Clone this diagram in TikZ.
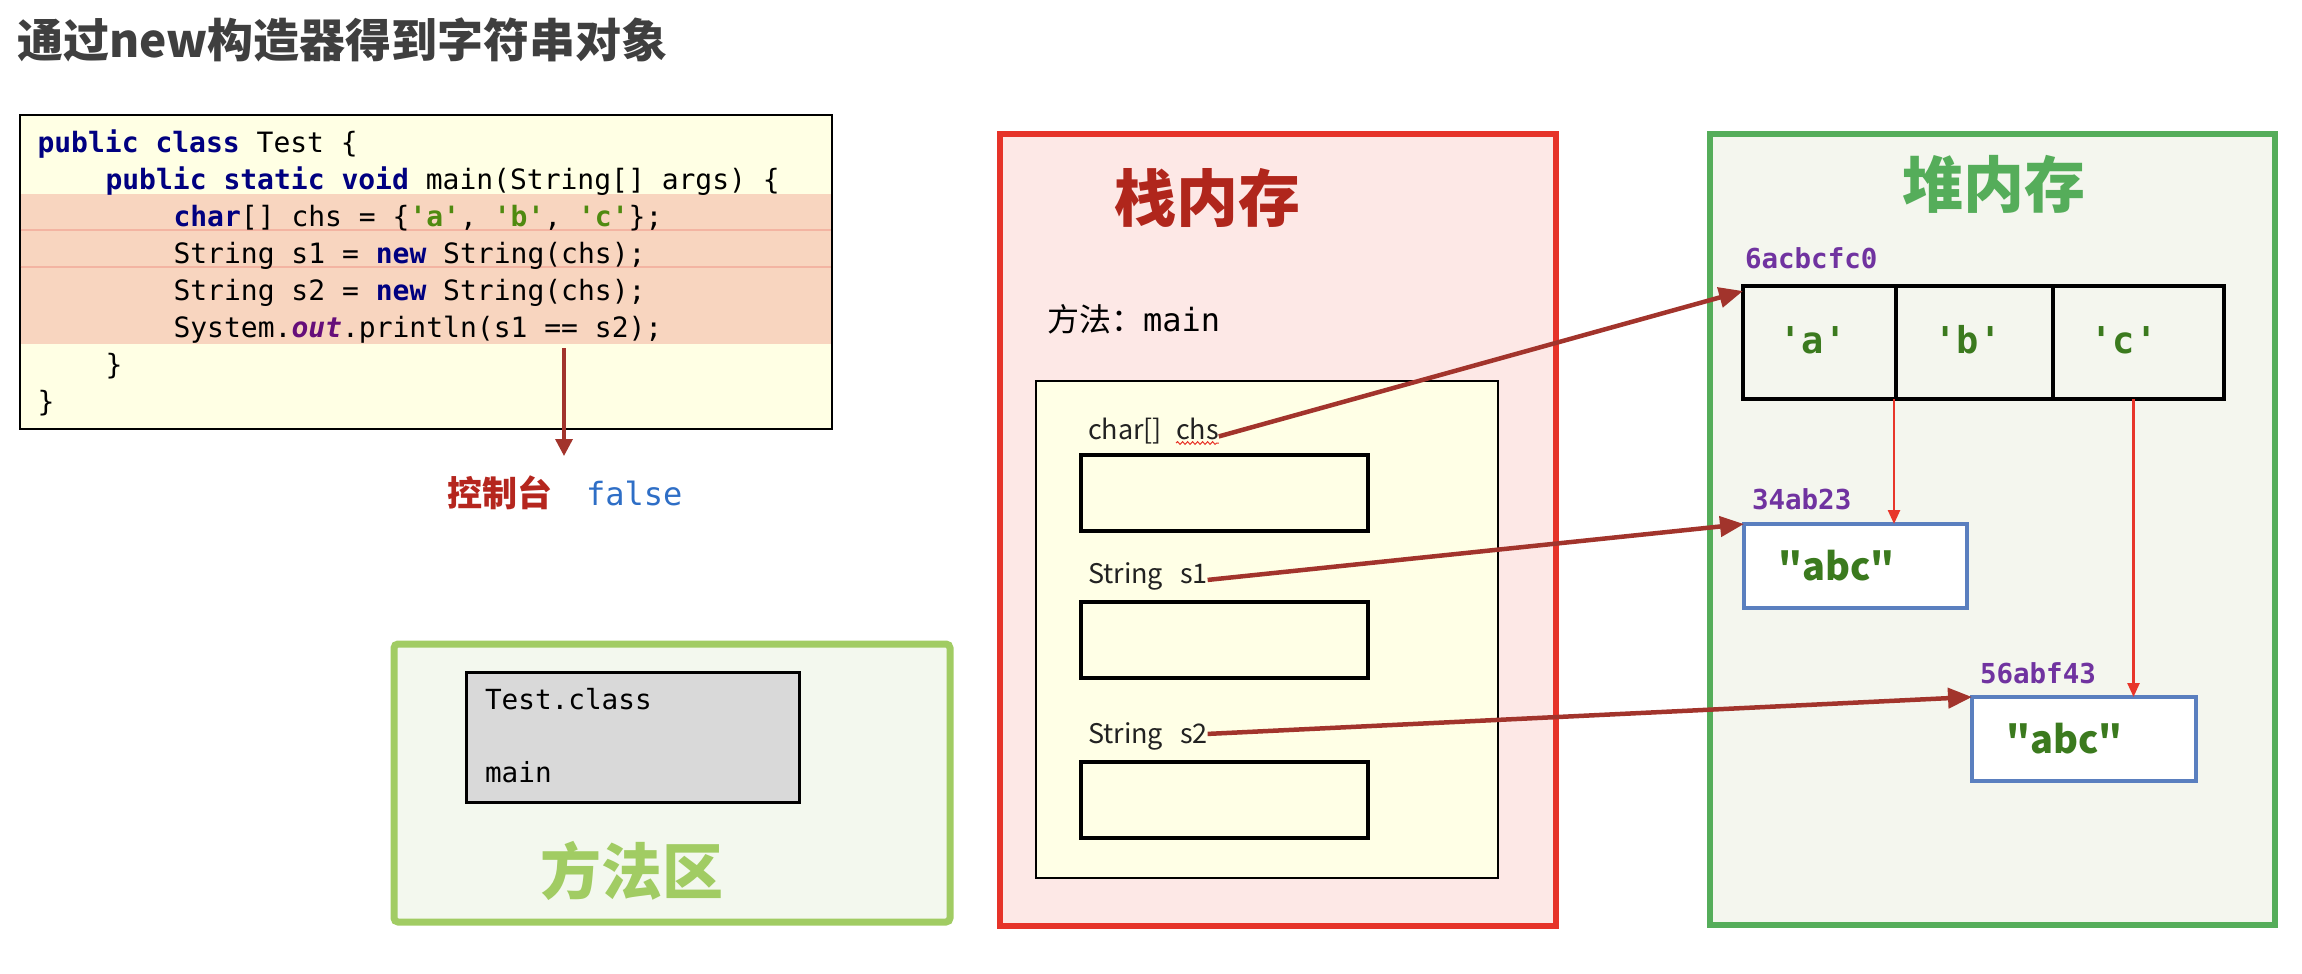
\documentclass[tikz,border=0pt]{standalone}
\usepackage{fontspec}
\setmonofont{DejaVu Sans Mono}
\newfontfamily\cjk{Noto Sans CJK SC}
\usetikzlibrary{arrows.meta,positioning,decorations.pathmorphing}

\definecolor{titlegray}{HTML}{3F3F3F}
\definecolor{codebg}{HTML}{FFFFE4}
\definecolor{band}{HTML}{F8D5BF}
\definecolor{bandline}{HTML}{F3B4A2}
\definecolor{kwblue}{HTML}{000080}
\definecolor{strgreen}{HTML}{4F8A10}
\definecolor{fldpurple}{HTML}{660E7A}
\definecolor{arrowred}{HTML}{A2342C}
\definecolor{consolered}{HTML}{B5261E}
\definecolor{falseblue}{HTML}{2E6EC6}
\definecolor{stackred}{HTML}{E63329}
\definecolor{stackbg}{HTML}{FDE8E6}
\definecolor{stackdark}{HTML}{B0261C}
\definecolor{innerbg}{HTML}{FFFFE6}
\definecolor{heapgreen}{HTML}{55AD5A}
\definecolor{heapbg}{HTML}{F4F6EE}
\definecolor{addrpurple}{HTML}{7033A0}
\definecolor{valgreen}{HTML}{3B7A1E}
\definecolor{strblue}{HTML}{5A7FBF}
\definecolor{linkred}{HTML}{E8362A}
\definecolor{methodgreen}{HTML}{A1CC63}
\definecolor{methodbg}{HTML}{F3F8EE}
\definecolor{classgray}{HTML}{D9D9D9}
\definecolor{labeldark}{HTML}{222222}

\newcommand\fsz[1]{\fontsize{#1}{#1}\selectfont}
\newcommand\kw[1]{\textcolor{kwblue}{\bfseries #1}}
\newcommand\jstr[1]{\textcolor{strgreen}{\bfseries #1}}
\newcommand\fld[1]{\textcolor{fldpurple}{\bfseries\itshape #1}}

\begin{document}
\begin{tikzpicture}[x=1pt, y=-1pt,
	every node/.style={inner sep=0pt, outer sep=0pt},
	codeline/.style={anchor=base west, font=\ttfamily\fsz{28}},
	area/.style={anchor=north west, line width=6pt},
	slot/.style={draw=black, line width=3.5pt, fill=innerbg, minimum width=287pt, minimum height=76pt, anchor=north west},
	varlabel/.style={anchor=base west, font=\cjk\fsz{27}, text=labeldark},
	addr/.style={anchor=west, font=\ttfamily\bfseries\fsz{27.5}, text=addrpurple},
	cell/.style={draw=black, line width=3.5pt, minimum height=113pt, anchor=north west},
	cellval/.style={anchor=base, font=\ttfamily\bfseries\fsz{37}, text=valgreen},
	strbox/.style={draw=strblue, line width=3.5pt, fill=white, anchor=north west, minimum width=223pt, minimum height=84pt},
	strtext/.style={anchor=west, font=\cjk\bfseries\fsz{38}, text=valgreen},
	ref/.style={arrowred, line width=4.5pt, -{Triangle[length=24pt,width=20pt]}},
	link/.style={linkred, line width=2.5pt, -{Triangle[length=14pt,width=12pt]}}]
	\useasboundingbox (0,0) rectangle (2302,974);

	% title
	\node[anchor=west, font=\cjk\bfseries\fsz{46}, text=titlegray] (title) at (17,40) {通过new构造器得到字符串对象};

	% source code
	\node[anchor=north west, draw=black, line width=2pt, fill=codebg, minimum width=812pt, minimum height=314pt] (code) at (19.5,115) {};
	\fill[band] (20.5,194) rectangle (830.5,344);
	\draw[bandline, line width=2pt] (20.5,230) -- (830.5,230);
	\draw[bandline, line width=2pt] (20.5,267) -- (830.5,267);
	\node[codeline] (c1) at (37.5,152) {\kw{public} \kw{class} Test \{};
	\node[codeline] (c2) at (105.5,189) {\kw{public} \kw{static} \kw{void} main(String[] args) \{};
	\node[codeline] (c3) at (173.5,226) {\kw{char}[] chs = \{\jstr{'a'}, \jstr{'b'}, \jstr{'c'}\};};
	\node[codeline] (c4) at (173.5,263) {String s1 = \kw{new} String(chs);};
	\node[codeline] (c5) at (173.5,300) {String s2 = \kw{new} String(chs);};
	\node[codeline] (c6) at (173.5,337) {System.\fld{out}.println(s1 == s2);};
	\node[codeline] (c7) at (105.5,374) {\}};
	\node[codeline] (c8) at (37.5,411) {\}};

	% console output
	\coordinate (printsrc) at (564,348);
	\coordinate (printtip) at (564,456);
	\draw[arrowred, line width=3.5pt, -{Triangle[length=17pt,width=17pt]}] (printsrc) -- (printtip);
	\node[anchor=west, font=\cjk\bfseries\fsz{35}, text=consolered] (console) at (447,493) {控制台};
	\node[anchor=base west, font=\ttfamily\fsz{32}, text=falseblue] (result) at (586,505) {false};

	% method area
	\node[area, draw=methodgreen, fill=methodbg, line width=7pt, rounded corners=4pt, minimum width=556pt, minimum height=278pt] (method) at (394,644) {};
	\node[anchor=north west, draw=black, line width=3pt, fill=classgray, minimum width=333pt, minimum height=130pt] (cls) at (466,672) {};
	\node[codeline, font=\ttfamily\fsz{27.7}] (clsname) at (485,709) {Test.class};
	\node[codeline, font=\ttfamily\fsz{27.7}] (clsmain) at (485,782) {main};
	\node[font=\cjk\bfseries\fsz{61}, text=methodgreen] (methodtitle) at (632,871) {方法区};

	% stack
	\node[area, draw=stackred, fill=stackbg, minimum width=556pt, minimum height=792pt] (stack) at (999.5,134) {};
	\node[font=\cjk\bfseries\fsz{62}, text=stackdark] (stacktitle) at (1207,198) {栈内存};
	\node[anchor=base west, font=\fsz{32}] (frame) at (1047,331) {\cjk 方法：\ttfamily main};
	\node[anchor=north west, draw=black, line width=2pt, fill=innerbg, minimum width=462pt, minimum height=497pt] (main) at (1036,380.5) {};
	\node[varlabel] (lchar) at (1088,439) {char[]};
	\node[varlabel] (lchs) at (1176,439) {chs};
	\draw[linkred, line width=1pt, decorate, decoration={snake, amplitude=1.4pt, segment length=5pt}] (1176,443) -- (lchs.south east |- 0,443);
	\node[slot] (slot1) at (1081,455) {};
	\node[varlabel] (ls1) at (1088,583) {\makebox[92pt][l]{String}s1};
	\node[slot] (slot2) at (1081,602) {};
	\node[varlabel] (ls2) at (1088,743) {\makebox[92pt][l]{String}s2};
	\node[slot] (slot3) at (1081,762) {};

	% heap
	\node[area, draw=heapgreen, fill=heapbg, minimum width=565pt, minimum height=791pt] (heap) at (1710,133.5) {};
	\node[font=\cjk\bfseries\fsz{61}, text=heapgreen] (heaptitle) at (1994,184) {堆内存};
	\node[addr] (addrarr) at (1745,258) {6acbcfc0};
	\node[cell, minimum width=153pt] (ca) at (1743,286) {};
	\node[cell, minimum width=157pt] (cb) at (1896,286) {};
	\node[cell, minimum width=171pt] (cc) at (2053,286) {};
	\node[cellval] (va) at (1813,353) {'a'};
	\node[cellval] (vb) at (1968,353) {'b'};
	\node[cellval] (vc) at (2124,353) {'c'};
	\node[addr] (addrs1) at (1752,499) {34ab23};
	\node[strbox] (obj1) at (1744,524) {};
	\node[strtext, right=34pt of obj1.west] (val1) {"abc"};
	\node[addr] (addrs2) at (1980,673) {56abf43};
	\node[strbox, minimum width=224pt] (obj2) at (1972,697) {};
	\node[strtext, right=34pt of obj2.west] (val2) {"abc"};

	% references
	\draw[ref] ([yshift=-8pt]lchs.east) -- ([yshift=-5pt]ca.north west);
	\draw[ref] ([yshift=-4pt]ls1.east) -- (obj1.north west);
	\draw[ref] ([yshift=2pt]ls2.east) -- (obj2.north west);
	\draw[link] ([xshift=-2pt]cb.south west) -- ([xshift=-2pt]cb.south west |- obj1.north);
	\draw[link] ([xshift=-5pt]cc.south) -- ([xshift=-5pt]cc.south |- obj2.north);
\end{tikzpicture}
\end{document}
